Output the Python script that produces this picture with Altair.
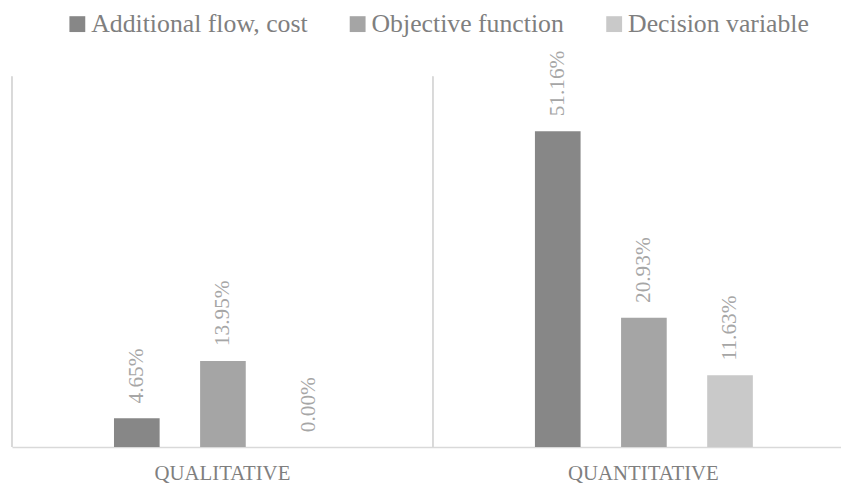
import altair as alt
import pandas as pd

categories = ["QUALITATIVE", "QUANTITATIVE"]
series = ["Additional flow, cost", "Objective function", "Decision variable"]
qualitative = [0.0465, 0.1395, 0.0]
quantitative = [0.5116, 0.2093, 0.1163]
colors = ["#878787", "#a5a5a5", "#c9c9c9"]

rows = []
for cat, vals in zip(categories, [qualitative, quantitative]):
    for s, v in zip(series, vals):
        rows.append({"category": cat, "series": s, "value": v})
df = pd.DataFrame(rows)

FONT = "Liberation Serif"
W = 850
H = 374

x_axis = alt.Axis(labelAngle=0, ticks=False, grid=False, domainColor="#d9d9d9",
                  domainWidth=1.5, labelColor="#7f7f7f", labelFont=FONT,
                  labelFontSize=21, labelBaseline="alphabetic", labelPadding=32.5,
                  title=None)
x_scale = alt.Scale(paddingInner=0, paddingOuter=0)

x_enc = alt.X("category:N", sort=categories, scale=x_scale, axis=x_axis, title=None)
xoff = alt.XOffset("series:N", sort=series,
                   scale=alt.Scale(range=[103, 323], paddingInner=0.47, paddingOuter=0))
y_enc = alt.Y("value:Q", scale=alt.Scale(domain=[0, 0.6]), axis=None)

rules = alt.Chart(df).mark_rule(color="#d9d9d9", strokeWidth=1.5).encode(
    x=alt.X("category:N", sort=categories, scale=x_scale, axis=x_axis,
            title=None, bandPosition=0),
    y=alt.value(0),
    y2=alt.value(H),
)

bars = alt.Chart(df).mark_bar().encode(
    x=x_enc,
    xOffset=xoff,
    y=y_enc,
    color=alt.Color(
        "series:N", sort=series,
        scale=alt.Scale(domain=series, range=colors),
        legend=alt.Legend(
            title=None, orient="none", direction="horizontal",
            legendX=53, legendY=-66,
            symbolType="square", symbolSize=256, symbolStrokeWidth=0,
            labelFont=FONT, labelFontSize=26, labelColor="#7f7f7f",
            labelLimit=600, columnPadding=37, labelOffset=1,
        ),
    ),
)

labels = alt.Chart(df).mark_text(
    angle=270, align="left", baseline="middle", dx=15,
    font=FONT, fontSize=21.5, color="#a6a6a6",
).encode(
    x=x_enc,
    xOffset=xoff,
    y=y_enc,
    text=alt.Text("value:Q", format=".2%"),
)

chart = alt.layer(rules, bars, labels).properties(
    width=W, height=H,
    padding={"left": 4, "top": 67, "right": -13, "bottom": 34},
    autosize=alt.AutoSizeParams(type="none"),
    background="white",
).configure_view(stroke=None)

chart.save("out.html", embed_options={"renderer": "svg", "actions": False})
